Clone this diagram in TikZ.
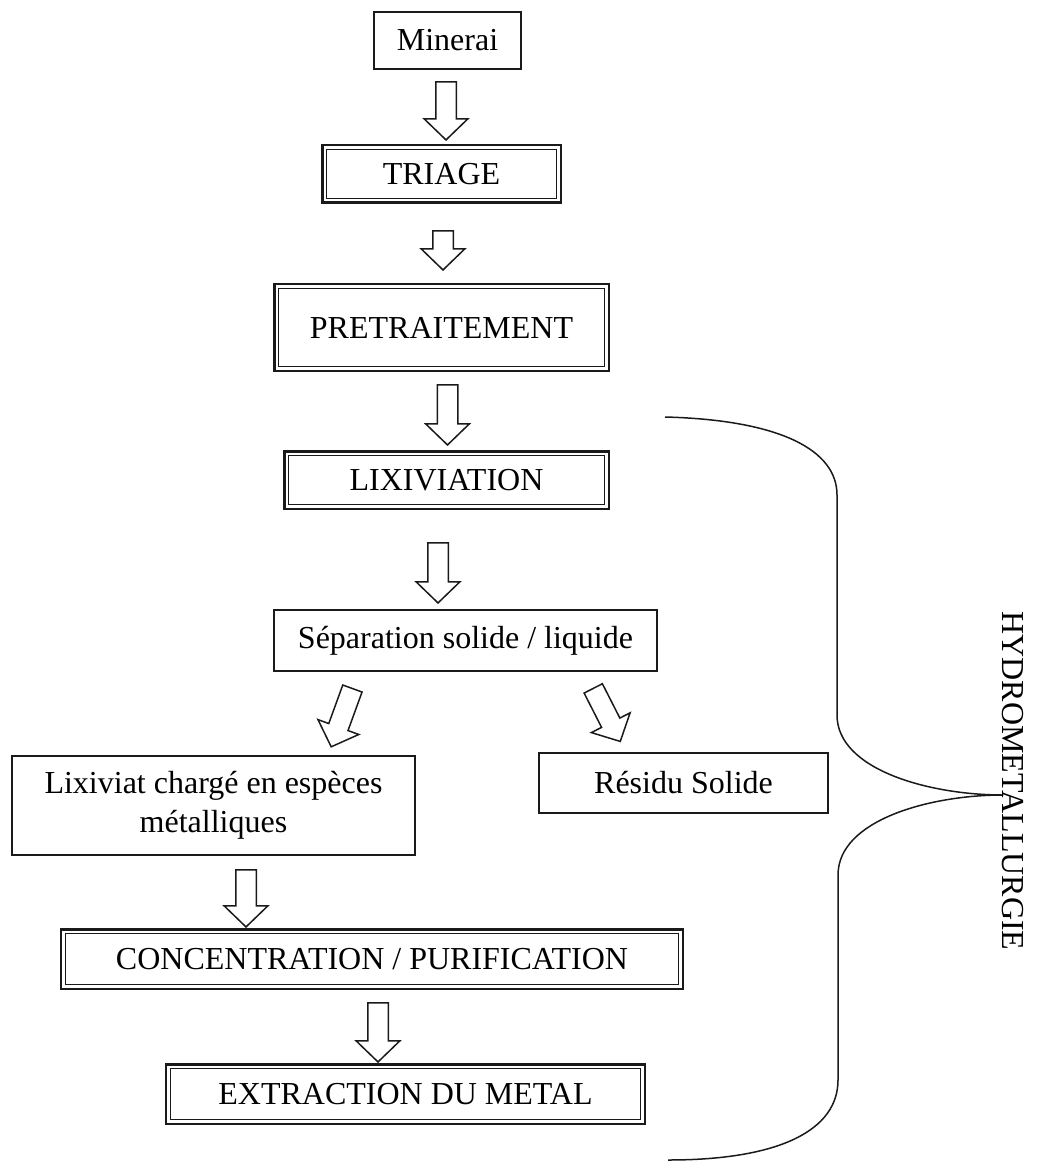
\documentclass[tikz,border=0pt]{standalone}
\usepackage{fontspec}
\setmainfont{Liberation Serif}
\usepackage{tikz}
\usetikzlibrary{shapes.arrows,calc}
\definecolor{inkBlack}{HTML}{1A1A1A}

\begin{document}
\begin{tikzpicture}[x=0.4pt,y=-0.4pt,line join=miter]
  \tikzstyle{plainBox}=[draw=inkBlack,line width=0.8pt,inner sep=0pt,align=center,font=\fontsize{12.8}{15.4}\selectfont]
  \tikzstyle{doubleBox}=[plainBox,line width=1pt]
  \tikzstyle{blockArrow}=[single arrow,draw=inkBlack,line width=0.6pt,inner xsep=0pt,inner ysep=3.8pt,minimum height=23.2pt,minimum width=16.8pt,single arrow head extend=4.6pt,single arrow tip angle=92]
  \useasboundingbox (0,0) rectangle (1039,1165);
  % process steps
  \node[plainBox,minimum width=58.8pt,minimum height=22.8pt] (minerai) at (447.5,40.5) {Minerai};
  \node[doubleBox,minimum width=95.4pt,minimum height=23pt] (triage) at (441.5,174) {TRIAGE};
  \node[doubleBox,minimum width=133.8pt,minimum height=34.6pt] (pretrait) at (441.5,327.5) {PRETRAITEMENT};
  \node[doubleBox,minimum width=129.8pt,minimum height=23pt] (lixiv) at (446.5,480) {LIXIVIATION};
  \node[plainBox,minimum width=153.2pt,minimum height=24.4pt] (sep) at (465.5,640.5) {Séparation solide / liquide};
  \node[plainBox,minimum width=161.2pt,minimum height=39.6pt] (lixiviat) at (213.5,805.5) {Lixiviat chargé en espèces\\métalliques};
  \node[plainBox,minimum width=115.6pt,minimum height=24pt] (residu) at (683.5,783) {Résidu Solide};
  \node[doubleBox,minimum width=248.6pt,minimum height=23.8pt] (conc) at (372,959) {CONCENTRATION / PURIFICATION};
  \node[doubleBox,minimum width=191.4pt,minimum height=23.8pt] (extract) at (405.5,1094) {EXTRACTION DU METAL};
  % inner frame of the double boxes
  \foreach \n in {triage,pretrait,lixiv,conc,extract}
    \draw[inkBlack,line width=0.5pt] ($(\n.south west)+(2.2pt,2.2pt)$) rectangle ($(\n.north east)-(2.2pt,2.2pt)$);
  % hollow arrows between the steps
  \node[blockArrow,rotate=-90] (arrA) at (446,106) {};
  \node[blockArrow,rotate=-90,minimum height=15.6pt] (arrB) at (443,245.5) {};
  \node[blockArrow,rotate=-90,minimum height=24pt] (arrC) at (447.5,410) {};
  \node[blockArrow,rotate=-90,minimum height=24pt] (arrD) at (438,568) {};
  \node[blockArrow,rotate=-110,minimum height=24.8pt] (arrE) at (343.5,713) {};
  \node[blockArrow,rotate=-63,minimum height=23.8pt] (arrF) at (604.5,710.5) {};
  \node[blockArrow,rotate=-90,minimum height=22.8pt] (arrG) at (246,893.5) {};
  \node[blockArrow,rotate=-90,minimum height=23.6pt] (arrH) at (378,1027.5) {};
  % brace
  \coordinate (braceTop) at (665,417);
  \coordinate (braceTip) at (1003,795);
  \coordinate (braceEnd) at (668,1160);
  \draw[inkBlack,line width=0.6pt] (braceTop) .. controls (780,420) and (837,450) .. (837,495)
    -- (837,715) .. controls (837,770) and (930,795) .. (braceTip)
    .. controls (930,795) and (838,820) .. (838,875)
    -- (838,1080) .. controls (838,1130) and (780,1160) .. (braceEnd);
  \node[rotate=-90,anchor=base,inner sep=0pt,font=\fontsize{12.8}{15.4}\selectfont] (hydro) at (1002,781) {HYDROMETALLURGIE};
\end{tikzpicture}
\end{document}
